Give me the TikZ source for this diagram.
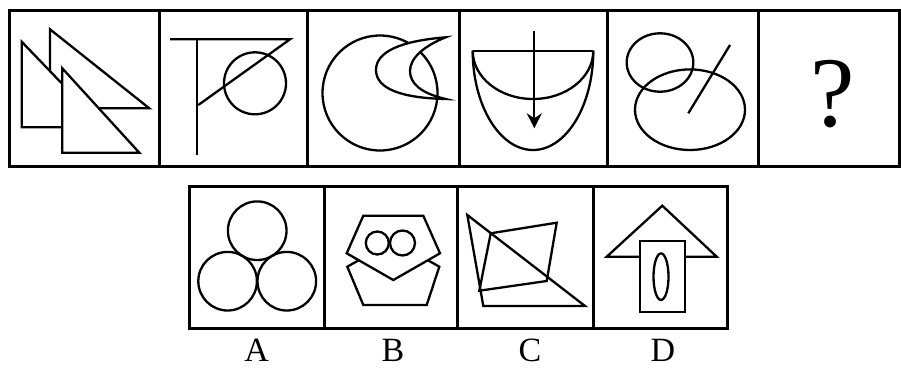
\documentclass[tikz,border=0pt]{standalone}
\usepackage{fontspec}
\setmainfont{Liberation Serif}
\usetikzlibrary{arrows.meta}
\tikzset{
  frame/.style={line width=3pt},
  divider/.style={line width=2.4pt},
  fig/.style={line width=2.3pt, line join=miter},
  figw/.style={fig, fill=white},
  lab/.style={inner sep=0pt, font=\fontsize{34}{34}\selectfont}
}
\begin{document}
\begin{tikzpicture}[x=1pt,y=-1pt]
\useasboundingbox (0,0) rectangle (901,368);
% ---------- top row frame ----------
\draw[frame] (9.3,10) rectangle (899,166.7);
\foreach \xx in {159.3,307.3,459.3,607.3,758.3}
  \draw[divider] (\xx,10) -- (\xx,166.7);
% ---------- bottom row frame ----------
\draw[frame] (189.3,186.7) rectangle (727.7,328.3);
\foreach \xx in {324.3,457.3,593.3}
  \draw[divider] (\xx,186.7) -- (\xx,328.3);

% ---------- cell 1: three right triangles ----------
\draw[figw] (50,29.3) -- (149.3,108.3) -- (50,108.3) -- cycle;
\draw[figw] (21.7,41.7) -- (104,127.3) -- (21.7,127.3) -- cycle;
\draw[figw] (62.3,68.3) -- (139.3,152.7) -- (62.3,152.7) -- cycle;

% ---------- cell 2: T with circle ----------
\draw[fig] (170,39.3) -- (290,39.3) -- (198.3,105);
\draw[fig] (196.7,39.3) -- (196.7,155);
\draw[fig] (255,83.3) circle[radius=31];

% ---------- cell 3: circle and crescent ----------
\draw[fig] (380,93) circle[radius=57.5];
\draw[figw] (445.7,37.3) .. controls (400,41) and (376,52) .. (376,70)
  .. controls (376,89) and (402,98) .. (445.7,99)
  .. controls (420,93) and (410,83) .. (410,71)
  .. controls (410,58) and (424,46) .. cycle;

% ---------- cell 4: bowl with arrow ----------
\draw[fig] (472.7,50.7) -- (593.3,50.7);
\draw[fig] (472.7,50.7) arc[start angle=180, end angle=0, x radius=60.3, y radius=48.3];
\draw[fig] (472.7,50.7) arc[start angle=180, end angle=0, x radius=60.3, y radius=99.3];
\draw[fig, -{Stealth[length=15pt,width=15pt,inset=5pt]}] (534.3,30.7) -- (534.3,128.3);

% ---------- cell 5: two ellipses and a line ----------
\draw[fig] (660,62.5) ellipse[x radius=33.3, y radius=29.2];
\draw[fig] (690,109.7) ellipse[x radius=55, y radius=40.3];
\draw[fig] (730,45) -- (688.3,113.3);

% ---------- cell 6: question mark ----------
\node[inner sep=0pt, font=\fontsize{100}{100}\selectfont] (q) at (832.5,94.5) {?};

% ---------- option A ----------
\draw[fig] (257.2,230.7) circle[radius=29.3];
\draw[fig] (227.6,281.2) circle[radius=29.3];
\draw[fig] (286.8,281.2) circle[radius=29.3];

% ---------- option B ----------
\draw[figw] (393.3,240.7) -- (439.3,266.7) -- (426.7,305) -- (363.3,305) -- (347.3,266.7) -- cycle;
\draw[figw] (363.3,215.7) -- (423.3,215.7) -- (440,253.3) -- (393.3,280) -- (346.7,253.3) -- cycle;
\draw[fig] (377.3,243) circle[radius=11.5];
\draw[fig] (402.5,243) circle[radius=12.5];

% ---------- option C ----------
\draw[fig] (467.3,215) -- (585,306) -- (483.3,306) -- cycle;
\draw[fig] (490.7,233.3) -- (556.7,222.7) -- (546.7,281) -- (479.3,290.7) -- cycle;

% ---------- option D ----------
\draw[fig] (606.7,256.7) -- (662.3,205.7) -- (716.7,256.7) -- cycle;
\draw[figw] (640,241) rectangle (685,311.7);
\draw[fig] (661,276.7) ellipse[x radius=7.5, y radius=23.3];

% ---------- labels ----------
\node[lab] (la) at (256.7,350) {A};
\node[lab] (lb) at (393,350) {B};
\node[lab] (lc) at (530,350) {C};
\node[lab] (ld) at (663,350) {D};
\end{tikzpicture}
\end{document}
